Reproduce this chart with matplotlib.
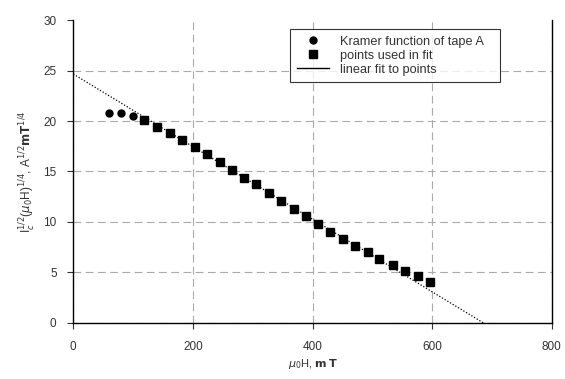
import matplotlib.pyplot as plt
from matplotlib.lines import Line2D

# Kramer function points not used in the fit
kramer_x = [60, 80, 100]
kramer_y = [20.8, 20.75, 20.5]

# points used in the fit
fit_x = [118, 140, 162, 182, 204, 223, 245, 265, 285, 306, 327, 348, 369, 389,
         410, 430, 451, 471, 492, 512, 534, 555, 576, 596]
fit_y = [20.1, 19.45, 18.8, 18.12, 17.45, 16.75, 15.97, 15.15, 14.4, 13.73, 12.85,
         12.08, 11.3, 10.62, 9.77, 8.98, 8.32, 7.66, 7.0, 6.34, 5.74, 5.15, 4.65, 4.03]

# linear fit
intercept = 24.65
slope = -0.03593
fit_end = 686

xticks = [0, 200, 400, 600, 800]
yticks = [0, 5, 10, 15, 20, 25, 30]
labels = ['Kramer function of tape A', 'points used in fit', 'linear fit to points']

plt.rcParams['font.family'] = ['Liberation Sans', 'DejaVu Sans']

fig = plt.figure(figsize=(5.65, 3.79), dpi=100)
ax = fig.add_axes([0.1297, 0.1478, 0.8468, 0.7994])

lx = [0, fit_end]
ly = [intercept + slope * v for v in lx]
ax.plot(lx, ly, color='black', linestyle=(0, (1, 1.5)), linewidth=0.9, zorder=3)
ax.plot(kramer_x, kramer_y, 'o', color='black', markersize=5, zorder=4)
ax.plot(fit_x, fit_y, 's', color='black', markersize=5.5, zorder=4)

ax.set_xlim(0, 800)
ax.set_ylim(0, 30)
ax.set_xticks(xticks)
ax.set_yticks(yticks)
ax.tick_params(direction='out', length=4, labelsize=8.5, colors='#333333')
ax.tick_params(axis='x', pad=9)
ax.tick_params(axis='y', pad=8)
ax.grid(True, color='#aaaaaa', linestyle=(0, (7, 4)), linewidth=0.8)
ax.set_axisbelow(True)
# no gridline along the top edge
ax.get_ygridlines()[-1].set_visible(False)
ax.spines['top'].set_visible(False)
for s in ['left', 'bottom', 'right']:
    ax.spines[s].set_linewidth(1.0)
    ax.spines[s].set_color('black')

ax.set_xlabel(r'$\mu_0$H, $\mathbf{m\,T}$', fontsize=8, color='#333333', labelpad=3)
ax.set_ylabel(r'I$_c^{1/2}$($\mu_0$H)$^{1/4}$, A$^{1/2}$$\mathbf{mT}^{1/4}$',
              fontsize=8.5, color='#333333', labelpad=4)

# legend shows the fit as a solid line
handles = [
    Line2D([], [], marker='o', color='black', linestyle='none', markersize=5),
    Line2D([], [], marker='s', color='black', linestyle='none', markersize=5.5),
    Line2D([], [], color='black', linewidth=1),
]
leg = ax.legend(handles, labels, loc='upper left', bbox_to_anchor=(0.44, 0.99),
                fontsize=9.2, frameon=True, fancybox=False, handlelength=2.5,
                labelspacing=0.15, borderpad=0.5, handletextpad=0.9,
                borderaxespad=0.5)
leg.get_frame().set_edgecolor('black')
leg.get_frame().set_linewidth(0.8)
for t in leg.get_texts():
    t.set_color('#333333')
# extra room on the right of the box, as in the original
leg.get_texts()[0].set_text(labels[0] + '   ')

fig.savefig('out.png', dpi=100)
